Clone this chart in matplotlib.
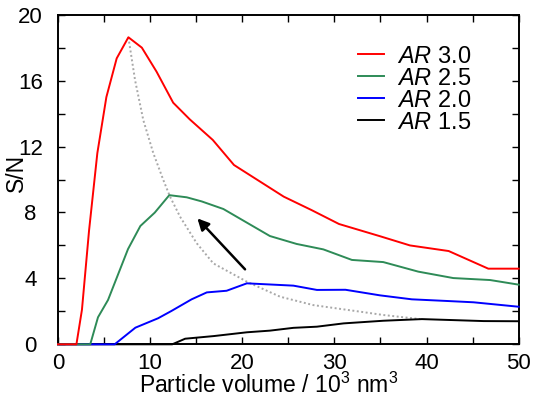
import matplotlib
matplotlib.use("Agg")
import matplotlib.pyplot as plt

plt.rcParams["font.family"] = ["Liberation Sans", "DejaVu Sans"]
plt.rcParams["mathtext.fontset"] = "custom"
plt.rcParams["mathtext.rm"] = "Liberation Sans"
plt.rcParams["mathtext.it"] = "Liberation Sans:italic"

# Signal-to-noise vs particle volume for four aspect ratios
red_x = [0, 2.0, 2.6, 3.37, 4.27, 5.25, 6.37, 7.64, 9.1, 10.7, 12.5, 14.3, 16.8, 19.1,
         24.5, 27.5, 30.5, 35.0, 38.2, 42.4, 46.7, 50]
red_y = [0, 0, 2.1, 6.9, 11.6, 15.0, 17.35, 18.63, 18.0, 16.54, 14.66, 13.65, 12.4, 10.88,
         8.96, 8.15, 7.3, 6.55, 6.0, 5.66, 4.59, 4.59]

green_x = [0, 3.5, 4.34, 5.43, 7.6, 8.94, 10.5, 12.08, 13.97, 15.6, 17.95, 23.0, 25.9,
           28.8, 31.9, 35.3, 39.1, 42.9, 46.9, 50]
green_y = [0, 0, 1.64, 2.69, 5.78, 7.18, 7.99, 9.05, 8.92, 8.67, 8.21, 6.57, 6.09,
           5.76, 5.12, 4.99, 4.41, 4.02, 3.9, 3.62]

blue_x = [0, 6.15, 6.95, 8.4, 10.86, 12.3, 14.5, 16.15, 18.3, 20.5, 25.55, 28.1, 31.2,
          34.96, 38.4, 42.2, 45.1, 50]
blue_y = [0, 0, 0.36, 1.01, 1.58, 2.02, 2.73, 3.15, 3.25, 3.7, 3.56, 3.3, 3.31,
          2.97, 2.73, 2.63, 2.55, 2.28]

black_x = [0, 12.4, 13.8, 16.9, 20.5, 23.0, 25.55, 28.1, 31.0, 35.3, 39.5, 46.2, 50]
black_y = [0, 0, 0.34, 0.5, 0.73, 0.83, 1.0, 1.07, 1.27, 1.43, 1.53, 1.41, 1.4]

# Guide line through the maxima
trend_x = [7.64, 8.36, 9.26, 10.35, 11.43, 12.16, 13.25, 14.15, 15.06, 16.86, 20.5,
           24.1, 27.7, 32.8, 35.3, 39.3]
trend_y = [18.63, 16.04, 13.6, 11.59, 9.97, 8.96, 7.74, 6.94, 6.13, 4.91, 3.8,
           2.89, 2.38, 1.98, 1.78, 1.53]

series = [
    (red_x, red_y, "#ff0000", r"$\mathit{AR}$ 3.0"),
    (green_x, green_y, "#2e8b57", r"$\mathit{AR}$ 2.5"),
    (blue_x, blue_y, "#0000ff", r"$\mathit{AR}$ 2.0"),
    (black_x, black_y, "#000000", r"$\mathit{AR}$ 1.5"),
]

x_ticks = [0, 10, 20, 30, 40, 50]
y_ticks = [0, 4, 8, 12, 16, 20]

fig = plt.figure(figsize=(5.38, 3.97), dpi=100)
ax = fig.add_axes([0.1078, 0.1327, 0.8563, 0.8303])

ax.plot(trend_x, trend_y, color="#a8a8a8", lw=1.4, ls=(0, (1, 1.3)), zorder=2)
# lower-ratio curves go underneath so each zero run stays visible
for i, (xs, ys, c, lab) in enumerate(series):
    ax.plot(xs, ys, color=c, lw=1.4, label=lab, zorder=6 - i, clip_on=False)

ax.annotate("", xy=(15.13, 7.64), xytext=(20.3, 4.55),
            arrowprops=dict(arrowstyle="-|>", color="black", lw=1.8,
                            mutation_scale=17, shrinkA=0, shrinkB=0))

ax.set_xlim(0, 50)
ax.set_ylim(0, 20)
ax.set_xticks(x_ticks)
ax.set_yticks(y_ticks)
ax.set_xticks(range(5, 50, 10), minor=True)
ax.set_yticks(range(2, 20, 4), minor=True)
ax.tick_params(which="both", direction="in", top=True, right=True,
               length=5, width=1, labelsize=16)
ax.tick_params(axis="x", which="major", pad=6)
ax.tick_params(axis="y", which="major", pad=20)
for lbl in ax.get_yticklabels():
    lbl.set_horizontalalignment("center")
for sp in ax.spines.values():
    sp.set_linewidth(1.4)

ax.set_xlabel(r"Particle volume / 10$^3$ nm$^3$", fontsize=16.5, labelpad=0)
ax.xaxis.set_label_coords(0.458, -0.085)
ax.set_ylabel("S/N", fontsize=16.5)
ax.yaxis.set_label_coords(-0.065, 0.52)

ax.legend(loc="upper left", bbox_to_anchor=(0.63, 0.935), frameon=False,
          fontsize=17, handlelength=1.1, handletextpad=0.55,
          labelspacing=0.0, borderaxespad=0)

fig.savefig("out.png", dpi=100)
